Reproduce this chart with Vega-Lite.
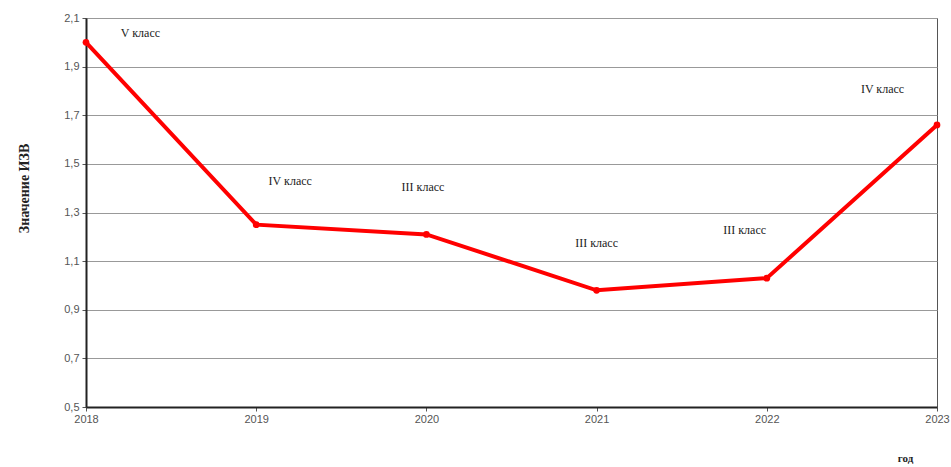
{
  "$schema": "https://vega.github.io/schema/vega-lite/v6.json",
  "width": 851,
  "height": 389,
  "autosize": {"type": "none"},
  "padding": {"left": 86, "top": 18, "right": 14, "bottom": 60},
  "background": "white",
  "config": {
    "view": {"stroke": "#555555", "strokeWidth": 1},
    "axis": {"labelFont": "Liberation Sans", "labelColor": "#555555", "labelFontSize": 11}
  },
  "datasets": {
    "series": [
      {"year": 2018, "value": 2.0},
      {"year": 2019, "value": 1.25},
      {"year": 2020, "value": 1.21},
      {"year": 2021, "value": 0.98},
      {"year": 2022, "value": 1.03},
      {"year": 2023, "value": 1.66}
    ],
    "notes": [
      {"pos": 2018.32, "level": 2.04, "label": "V класс"},
      {"pos": 2019.2, "level": 1.43, "label": "IV класс"},
      {"pos": 2019.98, "level": 1.405, "label": "III класс"},
      {"pos": 2021.0, "level": 1.175, "label": "III класс"},
      {"pos": 2021.87, "level": 1.23, "label": "III класс"},
      {"pos": 2022.68, "level": 1.81, "label": "IV класс"}
    ]
  },
  "layer": [
    {
      "data": {"name": "series"},
      "mark": {"type": "line", "color": "#ff0000", "strokeWidth": 4, "clip": false},
      "encoding": {
        "x": {
          "field": "year", "type": "quantitative",
          "scale": {"domain": [2018, 2023], "nice": false, "zero": false},
          "axis": {
            "values": [2018, 2019, 2020, 2021, 2022, 2023],
            "format": "d",
            "grid": false,
            "domainColor": "#222222",
            "domainWidth": 2,
            "tickColor": "#555555",
            "tickSize": 4,
            "labelPadding": 2,
            "labelFlush": false,
            "title": "год",
            "titleFont": "Liberation Serif",
            "titleFontSize": 11,
            "titleFontWeight": "bold",
            "titleColor": "#222222",
            "titleX": 819,
            "titleY": 54,
            "titleAlign": "center",
            "titleBaseline": "alphabetic"
          }
        },
        "y": {
          "field": "value", "type": "quantitative",
          "scale": {"domain": [0.5, 2.1], "nice": false, "zero": false},
          "axis": {
            "values": [0.5, 0.7, 0.9, 1.1, 1.3, 1.5, 1.7, 1.9, 2.1],
            "labelExpr": "replace(format(datum.value, '.1f'), '.', ',')",
            "grid": true,
            "gridColor": "#999999",
            "gridWidth": 1.2,
            "domainColor": "#222222",
            "domainWidth": 2,
            "tickColor": "#555555",
            "tickSize": 4,
            "labelPadding": 3,
            "title": "Значение ИЗВ",
            "titleFont": "Liberation Serif",
            "titleFontSize": 14,
            "titleFontWeight": "bold",
            "titleColor": "#222222",
            "titleAngle": 270,
            "titleX": -62,
            "titleY": 170,
            "titleAlign": "center",
            "titleBaseline": "middle"
          }
        }
      }
    },
    {
      "data": {"name": "series"},
      "mark": {"type": "point", "filled": true, "color": "#ff0000", "size": 45, "opacity": 1, "clip": false},
      "encoding": {
        "x": {"field": "year", "type": "quantitative"},
        "y": {"field": "value", "type": "quantitative"}
      }
    },
    {
      "data": {"name": "notes"},
      "mark": {"type": "text", "font": "Liberation Serif", "fontSize": 12, "color": "#222222", "align": "center", "baseline": "middle"},
      "encoding": {
        "x": {"field": "pos", "type": "quantitative"},
        "y": {"field": "level", "type": "quantitative"},
        "text": {"field": "label"}
      }
    }
  ]
}
